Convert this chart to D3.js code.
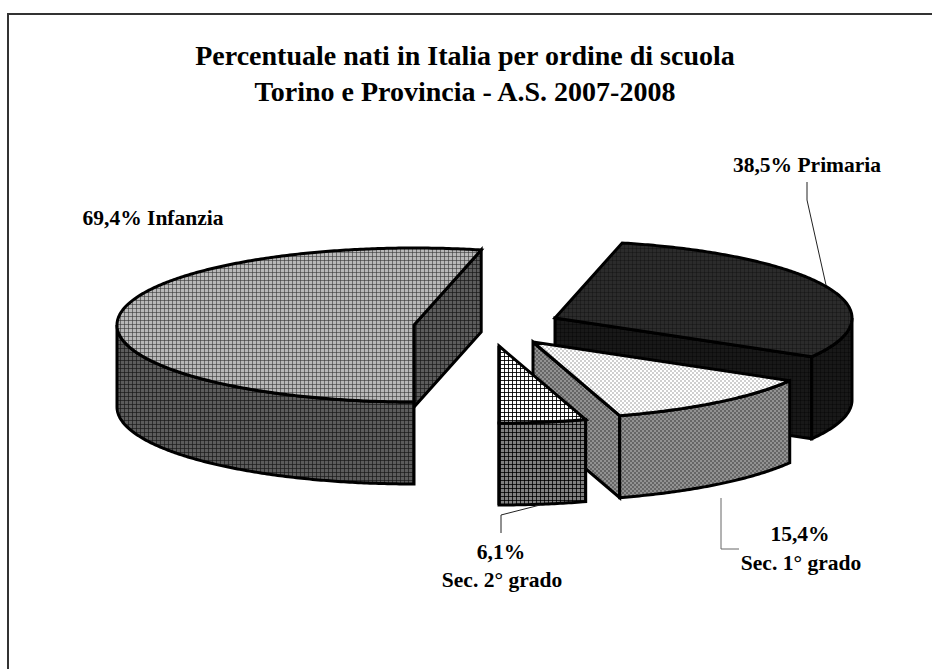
<!DOCTYPE html>
<html>
<head>
  <meta charset="utf-8" />
  <style>
  body { margin:0; padding:0; background:#fff; }
  svg { display:block; }
  text { font-family:"Liberation Serif", serif; font-weight:bold; fill:#000; text-anchor:middle; }
  .title { font-size:28px; }
  .lab { font-size:21.5px; }
  .leader { fill:none; stroke-width:1; }
  .face { stroke:#000; stroke-width:3; stroke-linejoin:miter; stroke-miterlimit:3; }
  </style>
  <script src="https://cdn.jsdelivr.net/npm/d3@7"></script>
</head>
<body>
<div id="chart"></div>
<script type="text/javascript">
// values as printed on the chart (they don't sum to 100, the pie just normalises them)
var categories = ["Infanzia", "Primaria", "Sec. 1° grado", "Sec. 2° grado"];
var values = [69.4, 38.5, 15.4, 6.1];
var titleLines = ["Percentuale nati in Italia per ordine di scuola", "Torino e Provincia - A.S. 2007-2008"];

// layout, measured on the reference
var W = 932, H = 669;
var rx = 297, ry = 77, depth = 82;
var explode = [[414, 325], [555, 318], [533, 342], [499, 346]];

var topFill = ["url(#infTop)", "url(#priTop)", "url(#se1Top)", "url(#se2Top)"];
var sideFill = ["url(#infSide)", "url(#priSide)", "url(#se1Side)", "url(#se2Side)"];

var svg = d3.select("#chart").append("svg").attr("width", W).attr("height", H);
var defs = svg.append("defs");

// the 1-bit looking hatches of the original
function hatch(id, size, bg, cells) {
  var p = defs.append("pattern").attr("id", id).attr("patternUnits", "userSpaceOnUse")
    .attr("width", size).attr("height", size);
  p.append("rect").attr("width", size).attr("height", size).attr("fill", bg);
  cells.forEach(function(c) {
    p.append("rect").attr("x", c[0]).attr("y", c[1]).attr("width", c[2]).attr("height", c[3]).attr("fill", c[4]);
  });
}
function plaid(id, bg, line, cross) {
  hatch(id, 4, bg, [[0, 0, 1, 4, line], [0, 0, 4, 1, line], [0, 0, 1, 1, cross]]);
}
function check(id, a, b) {
  hatch(id, 4, a, [[0, 0, 2, 2, b], [2, 2, 2, 2, b]]);
}
plaid("infTop", "#b8b8b8", "#6c6c6c", "#4c4c4c");
plaid("infSide", "#5c5c5c", "#2e2e2e", "#1e1e1e");
plaid("priTop", "#2b2b2b", "#202020", "#181818");
plaid("priSide", "#181818", "#101010", "#0a0a0a");
check("se1Top", "#fff", "#cfcfcf");
check("se1Side", "#666", "#929292");
plaid("se2Top", "#fff", "#222", "#000");
plaid("se2Side", "#808080", "#1a1a1a", "#000");

var pie = d3.pie().sort(null).startAngle(Math.PI).endAngle(3 * Math.PI);
var arcs = pie(values).map(function(d) {
  // keep angles in 0..2pi-ish so the "faces the viewer" test works
  var k = d.startAngle >= 2 * Math.PI ? 2 * Math.PI : 0;
  return {startAngle: d.startAngle - k, endAngle: d.endAngle - k};
});

// sin/cos of the pie angle -> flattened ellipse around the wedge centre
var sx = d3.scaleLinear().domain([-1, 1]).range([-rx, rx]);
var sy = d3.scaleLinear().domain([-1, 1]).range([-ry, ry]);
var line = d3.line();

function pt(c, a, dz) {
  return [c[0] + sx(Math.sin(a)), c[1] + sy(-Math.cos(a)) + (dz || 0)];
}
function rim(c, a0, a1, dz) {
  var n = Math.max(2, Math.ceil((a1 - a0) / 0.01));
  return d3.range(n + 1).map(function(i) { return pt(c, a0 + (a1 - a0) * i / n, dz); });
}

var g = svg.append("g");
arcs.forEach(function(d, i) {
  var c = explode[i];
  var w = g.append("g").attr("class", "wedge");

  // cut face on the clockwise end
  var e = pt(c, d.endAngle);
  w.append("path").attr("class", "face").attr("fill", sideFill[i])
    .attr("d", line([c, e, [e[0], e[1] + depth], [c[0], c[1] + depth]]) + "Z");

  // outer wall, only the part turned to the viewer
  var a0 = Math.max(d.startAngle, Math.PI / 2), a1 = Math.min(d.endAngle, 1.5 * Math.PI);
  if (a1 > a0) {
    w.append("path").attr("class", "face").attr("fill", sideFill[i])
      .attr("d", line(rim(c, a0, a1, 0).concat(rim(c, a0, a1, depth).reverse())) + "Z");
  }

  // top
  w.append("path").attr("class", "face").attr("fill", topFill[i])
    .attr("d", line([c].concat(rim(c, d.startAngle, d.endAngle, 0))) + "Z");
});

// frame: only left and top, the image is cut off on the other sides
svg.append("path").attr("fill", "none").attr("stroke", "#333").attr("stroke-width", 2)
  .attr("d", line([[8, H], [8, 14], [W, 14]]));

svg.selectAll(".title").data(titleLines).enter().append("text")
  .attr("class", "title").attr("x", 465)
  .attr("y", function(d, i) { return 65 + i * 36; })
  .text(function(d) { return d; });

function fmt(v) { return String(v).replace(".", ",") + "%"; }

var labels = [
  [fmt(values[0]) + " " + categories[0], 153, 225],
  [fmt(values[1]) + " " + categories[1], 807, 172],
  [fmt(values[2]), 800, 541],
  [categories[2], 801, 570],
  [fmt(values[3]), 501, 559],
  [categories[3], 502, 587]
];
svg.selectAll(".lab").data(labels).enter().append("text")
  .attr("class", "lab")
  .attr("x", function(d) { return d[1]; })
  .attr("y", function(d) { return d[2]; })
  .text(function(d) { return d[0]; });

var leaders = [
  [[[807, 182], [807, 200], [826, 285]], "#222"],
  [[[721, 498], [721, 549], [739, 549]], "#666"],
  [[[540, 505], [501, 515], [501, 533]], "#222"]
];
leaders.forEach(function(l) {
  svg.append("path").attr("class", "leader").attr("stroke", l[1]).attr("d", line(l[0]));
});
</script>
</body>
</html>
